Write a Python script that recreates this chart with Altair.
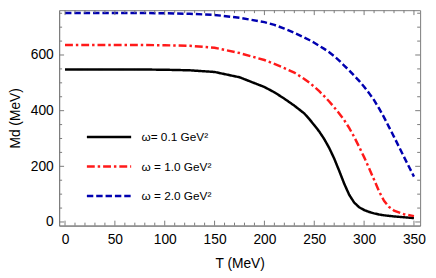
import altair as alt
import pandas as pd

T = [0, 25, 50, 75, 100, 125, 150, 175, 200, 210, 220, 230, 240, 245, 250, 255, 260,
     265, 270, 275, 280, 285, 290, 295, 300, 305, 310, 315, 320, 325, 330, 340, 350]
black = [548, 548, 548, 548, 547, 545, 539, 520, 485, 466, 443, 418, 390, 370, 348, 325, 298,
         266, 228, 184, 138, 98, 70, 53, 43, 36, 31, 27, 24, 22, 20, 17, 14]
red = [636, 636, 636, 636, 635, 633, 626, 607, 582, 568, 553, 537, 514, 501, 486, 470, 452,
       433, 412, 390, 366, 338, 306, 270, 233, 193, 152, 110, 76, 54, 41, 28, 21]
blue = [751, 751, 751, 751, 750, 748, 744, 734, 718, 708, 695, 680, 663, 654, 644, 633, 622,
        610, 596, 580, 562, 545, 526, 507, 486, 463, 438, 408, 376, 341, 306, 234, 163]

labels = ["ω= 0.1 GeV²", "ω = 1.0 GeV²", "ω = 2.0 GeV²"]
colors = ["#000000", "#ff1a1a", "#0000b0"]
dashes = [[1, 0], [8, 3, 2.5, 3], [6.5, 3]]

x_major = [0, 50, 100, 150, 200, 250, 300, 350]
x_minor = [v for v in range(0, 351, 10) if v % 50 != 0]
y_major = [0, 200, 400, 600]
y_minor = [v for v in range(0, 751, 50) if v % 200 != 0]

rows = []
for lab, ser in zip(labels, [black, red, blue]):
    for t, m in zip(T, ser):
        rows.append({"T": t, "M": m, "series": lab})
df = pd.DataFrame(rows)

W, H = 367, 219
FONT = "Liberation Sans"
FRAME = "#7a7a7a"
MAJ, MIN = 5, 3

xs = alt.Scale(domain=[-5.9, 356.2], nice=False, zero=False)
ys = alt.Scale(domain=[-13, 761], nice=False, zero=False)

x_axis = alt.Axis(
    orient="bottom", title="T (MeV)", values=x_major, ticks=False, domain=True,
    domainColor=FRAME, grid=False, labelPadding=7, titlePadding=11, labelFontSize=14,
    titleFontSize=14, labelFont=FONT, titleFont=FONT, titleFontWeight="normal",
    labelColor="#000", titleColor="#000")
y_axis = alt.Axis(
    orient="left", title="Md (MeV)", values=y_major, ticks=False, domain=True,
    domainColor=FRAME, grid=False, labelPadding=6, titlePadding=7.5, labelFontSize=14,
    titleFontSize=14, labelFont=FONT, titleFont=FONT, titleFontWeight="normal",
    labelColor="#000", titleColor="#000")

lines = alt.Chart(df).mark_line(strokeWidth=2.5, clip=True).encode(
    x=alt.X("T:Q", scale=xs, axis=x_axis),
    y=alt.Y("M:Q", scale=ys, axis=y_axis),
    color=alt.Color("series:N", scale=alt.Scale(domain=labels, range=colors),
                    legend=alt.Legend(title=None)),
    strokeDash=alt.StrokeDash("series:N", scale=alt.Scale(domain=labels, range=dashes),
                              legend=alt.Legend(title=None)),
)

xt_major = pd.DataFrame({"T": x_major})
xt_minor = pd.DataFrame({"T": x_minor})
yt_major = pd.DataFrame({"M": y_major})
yt_minor = pd.DataFrame({"M": y_minor})


def xticks(data, edge_px, length, inward_sign):
    return alt.Chart(data).mark_rule(color=FRAME, strokeWidth=1).encode(
        x=alt.X("T:Q", scale=xs, axis=x_axis),
        y=alt.value(edge_px),
        y2=alt.value(edge_px + inward_sign * length),
    )


def yticks(data, edge_px, length, inward_sign):
    return alt.Chart(data).mark_rule(color=FRAME, strokeWidth=1).encode(
        y=alt.Y("M:Q", scale=ys, axis=y_axis),
        x=alt.value(edge_px),
        x2=alt.value(edge_px + inward_sign * length),
    )


ticks = [
    xticks(xt_major, H, MAJ, -1), xticks(xt_minor, H, MIN, -1),
    xticks(xt_major, 0, MAJ, 1), xticks(xt_minor, 0, MIN, 1),
    yticks(yt_major, 0, MAJ, 1), yticks(yt_minor, 0, MIN, 1),
    yticks(yt_major, W, MAJ, -1), yticks(yt_minor, W, MIN, -1),
]

chart = alt.layer(lines, *ticks).properties(
    width=W, height=H,
    autosize=alt.AutoSizeParams(type="none"),
    padding={"left": 52, "top": 0, "right": 8, "bottom": 48},
).configure_view(
    stroke=FRAME, strokeWidth=1
).configure_legend(
    orient="none", legendX=26.7, legendY=105, padding=0,
    symbolType="stroke", symbolSize=2025, symbolStrokeWidth=2.5,
    labelFont=FONT, labelFontSize=12, labelColor="#000", labelOffset=9,
    rowPadding=-4
)

chart.save("out.html", embed_options={"renderer": "svg", "actions": False})
